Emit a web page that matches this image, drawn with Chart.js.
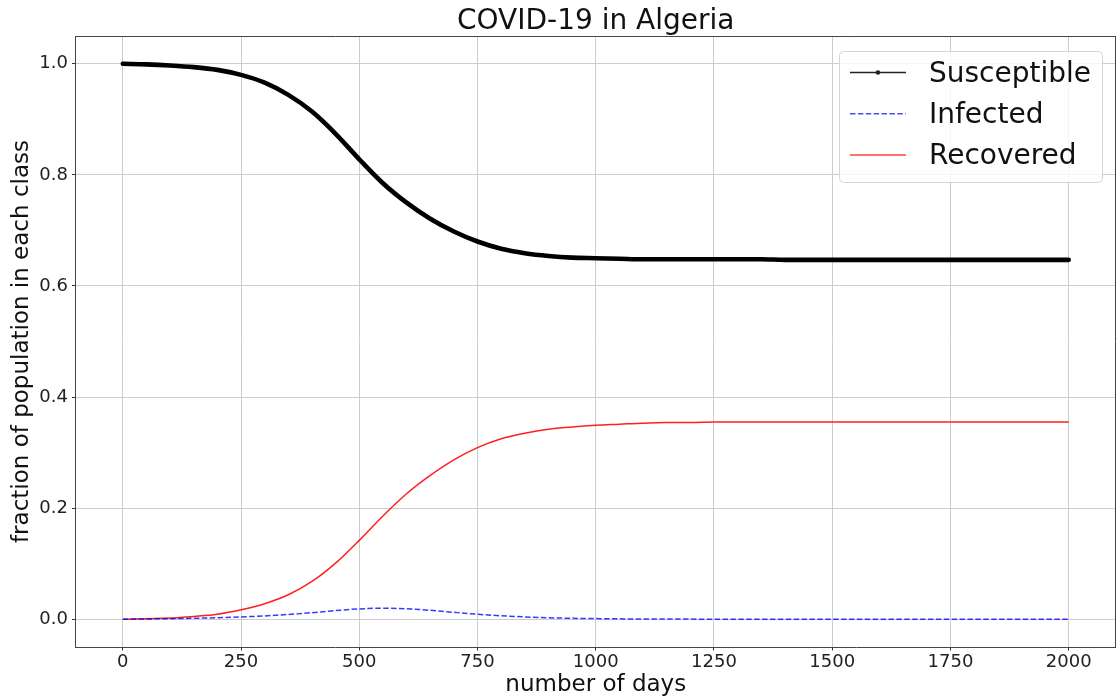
<!DOCTYPE html>
<html>
<head>
<meta charset="utf-8">
<title>COVID-19 in Algeria</title>
<script src="https://cdn.jsdelivr.net/npm/chart.js@4.4.1/dist/chart.umd.min.js"></script>
<style>
  html, body { margin: 0; padding: 0; background: #fff; }
  #wrap { width: 1116px; height: 698px; }
</style>
</head>
<body>
<div id="wrap"><canvas id="sirChart" width="1116" height="698"></canvas></div>
<script>
// days sampled every 50 days
const days = [0, 50, 100, 150, 200, 250, 300, 350, 400, 450, 500, 550, 600, 650, 700, 750, 800, 850, 900, 950,
  1000, 1050, 1100, 1150, 1200, 1250, 1300, 1350, 1400, 1450, 1500, 1550, 1600, 1650, 1700, 1750, 1800, 1850, 1900, 1950, 2000]

const susceptible = [1.000, 0.999, 0.997, 0.994, 0.989, 0.980, 0.966, 0.944, 0.914, 0.874, 0.828, 0.785, 0.750, 0.721, 0.698, 0.680, 0.667, 0.659, 0.654, 0.651,
  0.650, 0.649, 0.648, 0.648, 0.648, 0.648, 0.648, 0.648, 0.647, 0.647, 0.647, 0.647, 0.647, 0.647, 0.647, 0.647, 0.647, 0.647, 0.647, 0.647, 0.647]

const infected = [0.0000, 0.0005, 0.0010, 0.0017, 0.0027, 0.0041, 0.0060, 0.0086, 0.0118, 0.0155, 0.0186, 0.0198, 0.0188, 0.0160, 0.0124, 0.0090, 0.0062, 0.0041, 0.0027, 0.0017,
  0.0011, 0.0007, 0.0004, 0.0003, 0.0002, 0.0001, 0.0001, 0.0000, 0.0000, 0.0000, 0.0000, 0.0000, 0.0000, 0.0000, 0.0000, 0.0000, 0.0000, 0.0000, 0.0000, 0.0000, 0.0000]

const recovered = [0.000, 0.001, 0.002, 0.005, 0.009, 0.017, 0.028, 0.044, 0.068, 0.101, 0.142, 0.186, 0.226, 0.259, 0.287, 0.309, 0.325, 0.335, 0.342, 0.346,
  0.349, 0.351, 0.353, 0.354, 0.354, 0.355, 0.355, 0.355, 0.355, 0.355, 0.355, 0.355, 0.355, 0.355, 0.355, 0.355, 0.355, 0.355, 0.355, 0.355, 0.355]

const seriesNames = ["Susceptible", "Infected", "Recovered"]
const chartTitle = "COVID-19 in Algeria"
const xTicks = [0, 250, 500, 750, 1000, 1250, 1500, 1750, 2000]
const yTicks = [0.0, 0.2, 0.4, 0.6, 0.8, 1.0]

const FONT = '"DejaVu Sans", "Liberation Sans", sans-serif'
Chart.defaults.font.family = FONT
Chart.defaults.color = "#222"

const toPoints = (values) => days.map((d, i) => ({ x: d, y: values[i] }))

// top + right spines like matplotlib, title centred over the axes
const frameLines = {
  id: "frameLines",
  afterDatasetsDraw(chart) {
    const { ctx, chartArea: a } = chart
    ctx.save()
    ctx.strokeStyle = "#444"
    ctx.lineWidth = 1
    ctx.beginPath()
    ctx.moveTo(a.left, Math.round(a.top) + 0.5)
    ctx.lineTo(a.right, Math.round(a.top) + 0.5)
    ctx.moveTo(a.right - 0.5, a.top)
    ctx.lineTo(a.right - 0.5, a.bottom)
    ctx.stroke()

    ctx.font = `28px ${FONT}`
    ctx.fillStyle = "#111"
    ctx.textAlign = "center"
    ctx.textBaseline = "middle"
    ctx.fillText(chartTitle, (a.left + a.right) / 2, 22)
    ctx.restore()
  },
}

// legend box in the upper right of the plot area
const legendBox = {
  id: "legendBox",
  afterDraw(chart) {
    const { ctx, chartArea } = chart
    const fontPx = 28
    ctx.save()
    ctx.font = `${fontPx}px ${FONT}`
    const textW = Math.max(...seriesNames.map((n) => ctx.measureText(n).width))
    const pad = 11
    const handle = 56
    const gap = 23
    const rowH = 41.3
    const w = pad + handle + gap + textW + pad
    const h = 131
    const x = chartArea.right - 14 - w
    const y = chartArea.top + 14.5

    ctx.beginPath()
    ctx.roundRect(Math.round(x) + 0.5, Math.round(y) + 0.5, w, h, 4)
    ctx.fillStyle = "rgba(255,255,255,0.8)"
    ctx.fill()
    ctx.strokeStyle = "#d4d4d4"
    ctx.lineWidth = 1
    ctx.stroke()

    chart.data.datasets.forEach((ds, i) => {
      const cy = y + 22 + i * rowH
      ctx.beginPath()
      ctx.setLineDash(ds.borderDash || [])
      ctx.strokeStyle = ds.legendColor
      ctx.lineWidth = 1.5
      ctx.moveTo(x + pad, cy)
      ctx.lineTo(x + pad + handle, cy)
      ctx.stroke()
      ctx.setLineDash([])
      if (ds.legendDot) {
        ctx.beginPath()
        ctx.arc(x + pad + handle / 2, cy, 2.3, 0, Math.PI * 2)
        ctx.fillStyle = ds.legendColor
        ctx.fill()
      }
      ctx.fillStyle = "#111"
      ctx.textBaseline = "middle"
      ctx.textAlign = "left"
      ctx.fillText(ds.label, x + pad + handle + gap, cy + 2)
    })
    ctx.restore()
  },
}

const ctx = document.getElementById("sirChart").getContext("2d")
new Chart(ctx, {
  type: "line",
  data: {
    datasets: [
      {
        label: seriesNames[0],
        data: toPoints(susceptible),
        borderColor: "#000",
        legendColor: "#222",
        legendDot: true,
        borderWidth: 4.6,
        borderCapStyle: "round",
        borderJoinStyle: "round",
        pointRadius: 0,
        cubicInterpolationMode: "monotone",
      },
      {
        label: seriesNames[1],
        data: toPoints(infected),
        borderColor: "rgba(0,0,255,0.78)",
        legendColor: "rgba(0,0,255,0.7)",
        borderDash: [5.5, 2.4],
        borderWidth: 1.5,
        pointRadius: 0,
        cubicInterpolationMode: "monotone",
      },
      {
        label: seriesNames[2],
        data: toPoints(recovered),
        borderColor: "rgba(255,0,0,0.88)",
        legendColor: "rgba(255,0,0,0.75)",
        borderWidth: 1.5,
        pointRadius: 0,
        cubicInterpolationMode: "monotone",
      },
    ],
  },
  options: {
    responsive: false,
    animation: false,
    devicePixelRatio: 1,
    layout: { padding: { left: 0, right: -2.4, top: 36, bottom: 0 } },
    plugins: {
      legend: { display: false },
      tooltip: { enabled: false },
      title: { display: false },
    },
    scales: {
      x: {
        type: "linear",
        min: -100,
        max: 2100,
        afterBuildTicks: (scale) => {
          scale.ticks = xTicks.map((v) => ({ value: v }))
        },
        afterFit: (scale) => {
          scale.height = 51
        },
        ticks: {
          callback: (v) => String(v),
          font: { size: 18 },
          color: "#222",
          padding: 1.5,
          maxRotation: 0,
        },
        grid: { color: "#cdcdcd", lineWidth: 1, tickLength: 3.5, tickColor: "#333" },
        border: { color: "#444", width: 1 },
        title: {
          display: true,
          text: "number of days",
          color: "#111",
          font: { size: 23, lineHeight: 1 },
          padding: { top: 0, bottom: 1.5 },
        },
      },
      y: {
        type: "linear",
        min: -0.05,
        max: 1.05,
        afterBuildTicks: (scale) => {
          scale.ticks = yTicks.map((v) => ({ value: v }))
        },
        afterFit: (scale) => {
          scale.width = 75.5
        },
        ticks: {
          callback: (v) => v.toFixed(1),
          font: { size: 18 },
          color: "#222",
          padding: 4,
        },
        grid: { color: "#cdcdcd", lineWidth: 1, tickLength: 3.5, tickColor: "#333" },
        border: { color: "#444", width: 1 },
        title: {
          display: true,
          text: "fraction of population in each class",
          color: "#111",
          font: { size: 23, lineHeight: 1 },
          padding: { top: 10.5, bottom: 0 },
        },
      },
    },
  },
  plugins: [frameLines, legendBox],
})
</script>
</body>
</html>
